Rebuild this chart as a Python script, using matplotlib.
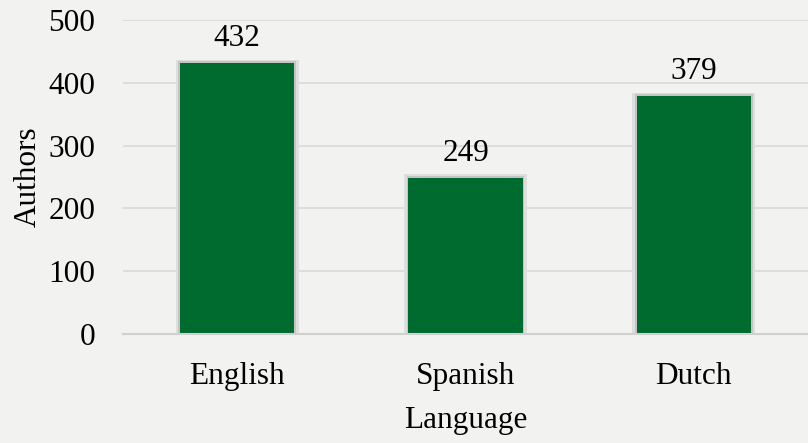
import matplotlib
matplotlib.use("Agg")
import matplotlib.pyplot as plt

categories = ["English", "Spanish", "Dutch"]
authors = [432, 249, 379]
yticks = [0, 100, 200, 300, 400, 500]

plt.rcParams['font.family'] = ['Liberation Serif', 'DejaVu Serif']
FS = 22.5

fig = plt.figure(figsize=(8.08, 4.43), dpi=100, facecolor='#f2f2f0')
ax = fig.add_axes([123/808, 1-334/443, 1-123/808, (334-20)/443])
ax.set_facecolor('#f2f2f0')

x = list(range(len(categories)))
# soft shadow around bars
ax.bar(x, [v + 5 for v in authors], width=0.54, color='#dedede', zorder=2)
ax.bar(x, [v + 2.5 for v in authors], width=0.515, color='#c4c4c4', zorder=2.5)
ax.bar(x, authors, width=0.5, color='#006b2f', zorder=3)
for xi, v in zip(x, authors):
    ax.annotate(str(v), (xi, v), xytext=(0, 7), textcoords='offset points',
                ha='center', va='bottom', fontsize=FS, color='#000000')

ax.set_xlim(-0.5, 2.5)
ax.set_ylim(0, 500)
ax.set_yticks(yticks)
ax.set_xticks(x)
ax.set_xticklabels(categories)
ax.tick_params(axis='both', length=0, labelsize=FS, colors='#000000')
ax.tick_params(axis='y', pad=20)
ax.tick_params(axis='x', pad=20)
ax.grid(axis='y', color='#d9d9d9', linewidth=1.2, zorder=0)
for s in ['top', 'right', 'left']:
    ax.spines[s].set_visible(False)
ax.spines['bottom'].set_color('#d0d0d0')
ax.spines['bottom'].set_linewidth(1.5)
ax.spines['bottom'].set_zorder(4)
ax.set_ylabel('Authors', fontsize=FS, labelpad=4)
ax.set_xlabel('Language', fontsize=FS, labelpad=11)

fig.savefig('out.png', dpi=100, facecolor=fig.get_facecolor())
